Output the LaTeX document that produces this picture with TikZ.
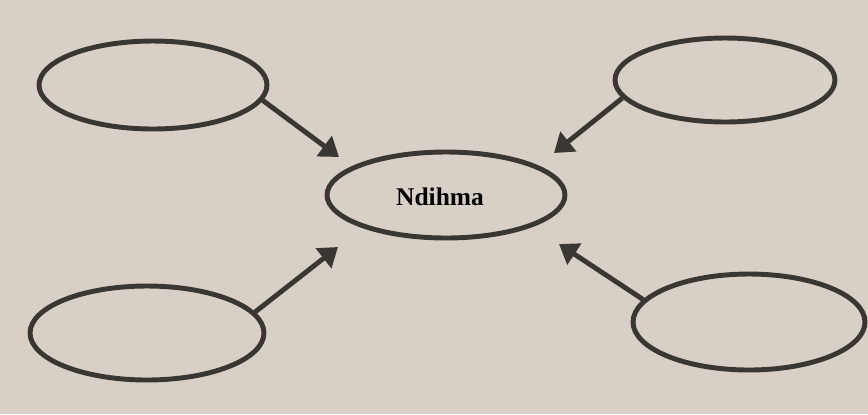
\documentclass[tikz,border=0pt]{standalone}
\usepackage{fontspec}
\setmainfont{Liberation Serif}
\usetikzlibrary{shapes.geometric,arrows.meta}
\definecolor{paper}{RGB}{216,208,199}
\definecolor{ink}{RGB}{58,54,50}
\newcommand{\drawarrow}{\draw[line width=2.8pt,ink,-{Triangle[length=10.5pt,width=14pt]}]}
\tikzset{bubble/.style={draw=ink,ellipse,line width=2.8pt,inner sep=0pt}}

\begin{document}
\begin{tikzpicture}[x=0.02cm,y=-0.02cm]
\fill[paper] (0,0) rectangle (868,414);
\node[bubble,minimum width=4.76cm,minimum height=1.72cm] (help) at (446,195) {};
\node[font=\fontsize{14.5}{17}\selectfont\bfseries] (label) at (440,197) {Ndihma};
\node[bubble,minimum width=4.56cm,minimum height=1.76cm] (tl) at (153,85) {};
\node[bubble,minimum width=4.4cm,minimum height=1.68cm] (tr) at (725,80) {};
\node[bubble,minimum width=4.68cm,minimum height=1.88cm] (bl) at (147,333) {};
\node[bubble,minimum width=4.64cm,minimum height=1.92cm] (br) at (749,322) {};
\coordinate (tipTL) at (339,157);\coordinate (tipTR) at (554,153);
\coordinate (tipBL) at (338,247);\coordinate (tipBR) at (559,244);
\drawarrow (tl.-8)--(tipTL);
\drawarrow (tr.190)--(tipTR);
\drawarrow (bl.11)--(tipBL);
\drawarrow (br.168)--(tipBR);
\end{tikzpicture}
\end{document}
